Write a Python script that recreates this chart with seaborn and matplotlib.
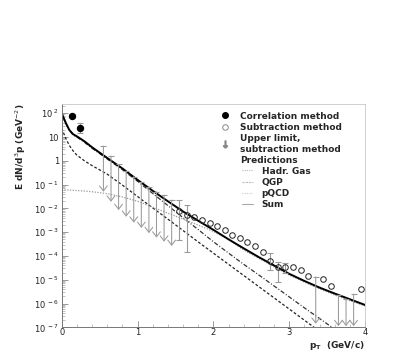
import numpy as np
import pandas as pd
import matplotlib
matplotlib.use("Agg")
import matplotlib.pyplot as plt
import seaborn as sns
from matplotlib.lines import Line2D
from matplotlib import ticker

# model curves, values as log10(E dN/d3p)
pt_curve = [0.0, 0.05, 0.1, 0.15, 0.2, 0.3, 0.4, 0.6, 0.8, 1.0, 1.2, 1.4, 1.6,
            1.8, 2.0, 2.2, 2.4, 2.6, 2.8, 3.0, 3.2, 3.4, 3.6, 3.8, 4.0]
sum_log = [2.0, 1.62, 1.3, 1.12, 1.03, 0.82, 0.57, 0.12, -0.32, -0.8, -1.26, -1.7, -2.13,
           -2.52, -2.9, -3.3, -3.68, -4.05, -4.4, -4.75, -5.05, -5.33, -5.58, -5.82, -6.06]
hg_log = [1.37, 0.97, 0.65, 0.42, 0.24, 0.0, -0.2, -0.56, -1.02, -1.5, -1.98, -2.45, -2.93,
          -3.41, -3.88, -4.35, -4.82, -5.29, -5.76, -6.23, -6.7, -7.17, -7.64, -8.11, -8.58]
qgp_log = [1.93, 1.6, 1.28, 1.09, 1.0, 0.78, 0.53, 0.08, -0.37, -0.86, -1.37, -1.88, -2.39,
           -2.89, -3.4, -3.88, -4.35, -4.8, -5.26, -5.72, -6.18, -6.63, -7.08, -7.53, -7.98]
pqcd_log = [-1.22, -1.225, -1.23, -1.24, -1.25, -1.27, -1.3, -1.38, -1.52, -1.7, -1.95, -2.2, -2.45,
            -2.7, -2.97, -3.3, -3.75, -4.1, -4.45, -4.8, -5.1, -5.38, -5.64, -5.88, -6.1]

# correlation method
corr_pt = [0.13, 0.24]
corr_log = [1.90, 1.39]
corr_hi_log = [1.96, 1.58]
corr_lo_log = [1.84, 1.16]

# subtraction method (hi/lo equal to the value where no bar is visible)
sub_pt = [1.55, 1.65, 1.75, 1.85, 1.95, 2.05, 2.15, 2.25, 2.35, 2.45, 2.55,
          2.65, 2.75, 2.85, 2.95, 3.05, 3.15, 3.25, 3.45, 3.55, 3.95]
sub_log = [-2.10, -2.28, -2.37, -2.49, -2.60, -2.74, -2.91, -3.12, -3.23, -3.40, -3.58,
           -3.82, -4.21, -4.45, -4.47, -4.45, -4.57, -4.84, -4.95, -5.28, -5.40]
sub_hi_log = [-1.65, -1.86, -2.37, -2.49, -2.60, -2.74, -2.91, -3.12, -3.23, -3.40, -3.58,
              -3.82, -3.88, -4.24, -4.30, -4.45, -4.57, -4.84, -4.95, -5.28, -5.40]
sub_lo_log = [-3.33, -3.82, -2.37, -2.49, -2.60, -2.74, -2.91, -3.12, -3.23, -3.40, -3.58,
              -3.82, -4.59, -5.08, -4.72, -4.45, -4.57, -4.84, -4.95, -5.28, -5.40]

# upper limits (subtraction method)
ul_pt = [0.55, 0.65, 0.75, 0.85, 0.95, 1.05, 1.15, 1.25, 1.35, 1.45, 3.35, 3.65, 3.75, 3.85]
ul_top_log = [0.62, 0.20, -0.15, -0.43, -0.67, -0.88, -1.09, -1.30, -1.44, -1.65,
              -4.88, -5.65, -5.80, -5.61]
ul_tip_log = [-1.30, -1.72, -2.07, -2.35, -2.60, -2.82, -3.04, -3.23, -3.40, -3.58,
              -6.85, -6.95, -6.95, -6.95]

models = ["Hadr. Gas", "QGP", "pQCD", "Sum"]
curves = pd.DataFrame({
    "pT": pt_curve * 4,
    "value": 10 ** np.array(hg_log + qgp_log + pqcd_log + sum_log),
    "model": np.repeat(models, len(pt_curve)),
})

sns.set_style("ticks")
plt.rcParams['font.family'] = ['DejaVu Sans']
plt.rcParams['mathtext.fontset'] = 'dejavusans'

fig = plt.figure(figsize=(4.15, 3.53), dpi=100)
ax = fig.add_axes([0.1487, 0.0728, 0.7308, 0.6326])
ax.set_yscale('log')

styles = {
    "Hadr. Gas": dict(color='#222222', lw=0.9, dashes=[2.2, 1.6]),
    "QGP": dict(color='#333333', lw=0.9, dashes=[3.5, 1.5, 0.8, 1.5]),
    "pQCD": dict(color='#999999', lw=0.9, dashes=[1.0, 1.2]),
    "Sum": dict(color='black', lw=1.4, dashes=None),
}
for m in models:
    st = styles[m]
    sns.lineplot(data=curves[curves.model == m], x="pT", y="value", ax=ax,
                 color=st['color'], lw=st['lw'], estimator=None, sort=False)
    if st['dashes'] is not None:
        ax.lines[-1].set_dashes(st['dashes'])

grey = '#9a9a9a'

# upper limits: cap at the limit, arrow down
for x, top, tip in zip(ul_pt, ul_top_log, ul_tip_log):
    ax.annotate('', xy=(x, 10 ** tip), xytext=(x, 10 ** top),
                arrowprops=dict(arrowstyle='->,head_length=0.36,head_width=0.28',
                                color=grey, lw=0.75, shrinkA=0, shrinkB=0),
                annotation_clip=False)
ax.plot(ul_pt, 10 ** np.array(ul_top_log), ls='none', marker='_', ms=5, mew=0.8, color=grey)

# subtraction method
sub_v = 10 ** np.array(sub_log)
sub_hi = 10 ** np.array(sub_hi_log)
sub_lo = 10 ** np.array(sub_lo_log)
has_bar = sub_hi > sub_v
ax.errorbar(np.array(sub_pt)[has_bar], sub_v[has_bar],
            yerr=[sub_v[has_bar] - sub_lo[has_bar], sub_hi[has_bar] - sub_v[has_bar]],
            fmt='none', ecolor=grey, elinewidth=0.8, capsize=2.2, capthick=0.8)
ax.plot(sub_pt, sub_v, ls='none', marker='o', ms=4, mfc='none', mec='#222222', mew=0.7)

# correlation method
corr_v = 10 ** np.array(corr_log)
corr_err = [corr_v - 10 ** np.array(corr_lo_log), 10 ** np.array(corr_hi_log) - corr_v]
ax.errorbar(corr_pt, corr_v, yerr=corr_err, fmt='o', ms=4.3, color='black',
            ecolor=grey, elinewidth=0.8, capsize=2.2, capthick=0.8)

ax.set_xlim(0, 4)
ax.set_ylim(1e-7, 10 ** 2.39)

ax.xaxis.set_major_locator(ticker.MultipleLocator(1))
ax.xaxis.set_minor_locator(ticker.MultipleLocator(0.2))
ax.yaxis.set_major_locator(ticker.FixedLocator(10.0 ** np.arange(-7, 3)))
ax.yaxis.set_minor_locator(ticker.LogLocator(base=10, subs=np.arange(2, 10), numticks=20))
ax.yaxis.set_minor_formatter(ticker.NullFormatter())


def log_fmt(v, pos):
    e = int(round(np.log10(v)))
    if e == 0:
        return '1'
    if e == 1:
        return '10'
    return r'$10^{\ %d}$' % e


ax.yaxis.set_major_formatter(ticker.FuncFormatter(log_fmt))
ax.xaxis.set_major_formatter(ticker.FormatStrFormatter('%d'))

ax.tick_params(which='major', direction='in', length=4.5, width=0.6, color='#888888',
               labelcolor='#222222', labelsize=6, pad=2)
ax.tick_params(which='minor', direction='in', length=2.2, width=0.5, color='#aaaaaa')
ax.tick_params(axis='x', pad=0.8)

for side in ['top', 'right']:
    ax.spines[side].set_color('#c8c8c8')
    ax.spines[side].set_linewidth(0.6)
for side in ['left', 'bottom']:
    ax.spines[side].set_color('#777777')
    ax.spines[side].set_linewidth(0.7)

ax.set_ylabel(r'E dN/d$^{3}$p (GeV$^{-2}$)', loc='top', fontsize=6.5, fontweight='bold')
ax.yaxis.set_label_coords(-0.112, 1.0)
ax.set_xlabel(r'p$_{\mathbf{T}}$  (GeV/c)', loc='right', fontsize=6.5, fontweight='bold')
ax.xaxis.label.set_va('center')
ax.xaxis.set_label_coords(1.0, -0.08)

# legends
h_data = [
    Line2D([], [], marker='o', color='black', ls='none', ms=4),
    Line2D([], [], marker='o', mfc='none', mec='#888888', mew=0.7, ls='none', ms=4),
    Line2D([], [], marker=r'$\downarrow$', color='#888888', ls='none', ms=5),
    Line2D([], [], ls='none'),
]
l_data = ['Correlation method', 'Subtraction method', 'Upper limit,\nsubtraction method', 'Predictions']
leg1 = ax.legend(h_data, l_data, loc='upper left', bbox_to_anchor=(0.524, 0.966), frameon=False,
                 prop={'weight': 'bold', 'size': 6.5}, handlelength=1.0, handletextpad=1.17,
                 labelspacing=0.25, borderpad=0, borderaxespad=0)
ax.add_artist(leg1)

h_mod = [
    Line2D([], [], color='#bbbbbb', lw=0.8, dashes=[1.0, 1.0]),
    Line2D([], [], color='#bbbbbb', lw=0.8, dashes=[2.0, 1.0]),
    Line2D([], [], color='#cccccc', lw=0.8, dashes=[1.0, 1.0]),
    Line2D([], [], color='#aaaaaa', lw=0.8),
]
ax.legend(h_mod, models, loc='upper left', bbox_to_anchor=(0.594, 0.72), frameon=False,
          prop={'weight': 'bold', 'size': 6.5}, handlelength=1.2, handletextpad=1.0,
          labelspacing=0.25, borderpad=0, borderaxespad=0)

fig.savefig("out.png", dpi=100)
